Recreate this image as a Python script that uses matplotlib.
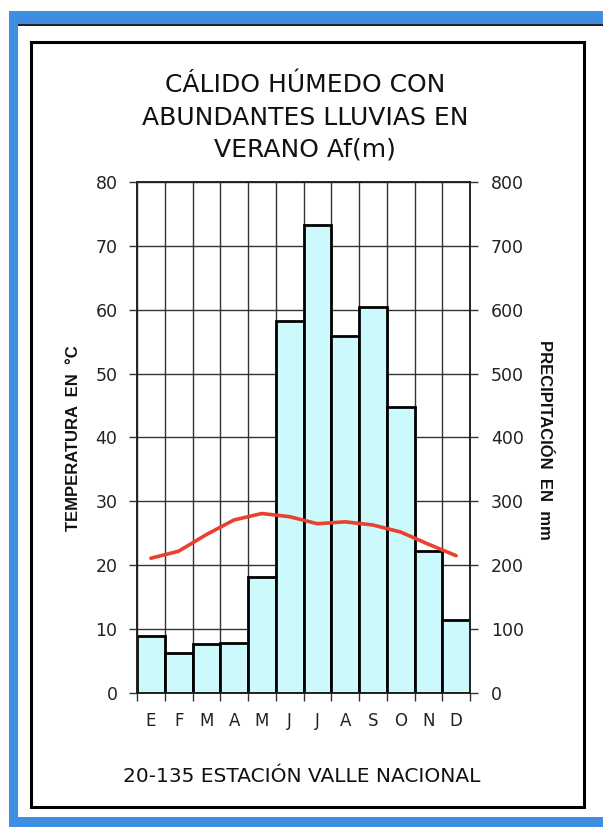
"""
Climograma: cálido húmedo con abundantes lluvias en verano, Valle Nacional
"""

import numpy as np
import matplotlib
matplotlib.use("Agg")
import matplotlib.pyplot as plt
from matplotlib.patches import Rectangle

# Datos
meses = ["E", "F", "M", "A", "M", "J", "J", "A", "S", "O", "N", "D"]
precipitacion = [89, 63, 76, 78, 182, 582, 733, 559, 605, 448, 223, 114]  # mm
temperatura = [21.1, 22.2, 24.8, 27.1, 28.1, 27.6, 26.5, 26.8, 26.3, 25.2, 23.3, 21.5]  # °C
ticks_temp = list(range(0, 81, 10))
ticks_prec = list(range(0, 801, 100))

W, H = 603, 827
fig = plt.figure(figsize=(W / 100, H / 100), dpi=100)
fig.patch.set_facecolor("white")


def fx(px):
    return px / W


def fy(py):
    return 1 - py / H


# Marco azul (ventana) y marco negro
azul = "#3d8ee0"
fig.patches.append(Rectangle((fx(9), fy(25)), fx(603 - 9), 14 / H, transform=fig.transFigure,
                             facecolor=azul, edgecolor="none", zorder=0))
fig.patches.append(Rectangle((fx(9), fy(827)), fx(9), 802 / H, transform=fig.transFigure,
                             facecolor=azul, edgecolor="none", zorder=0))
fig.patches.append(Rectangle((fx(9), fy(827)), fx(603 - 9), 10 / H, transform=fig.transFigure,
                             facecolor=azul, edgecolor="none", zorder=0))
fig.patches.append(Rectangle((fx(18), fy(26)), fx(603 - 18), 1.5 / H, transform=fig.transFigure,
                             facecolor="#222222", edgecolor="none", zorder=0))
fig.patches.append(Rectangle((fx(31), fy(807)), fx(584 - 31), (807 - 42) / H,
                             transform=fig.transFigure, facecolor="none",
                             edgecolor="black", lw=2.2, zorder=1))

# Ejes
ax2 = fig.add_axes([fx(137), fy(693), fx(470 - 137), (693 - 182) / H])
ax = ax2.twinx()
ax.yaxis.tick_left()
ax2.yaxis.tick_right()

x = np.arange(len(meses))
ax2.bar(x, precipitacion, width=1.0, color="#ccfafc", edgecolor="black", lw=2.0, zorder=3)
ax2.set_ylim(0, 800)
ax2.set_xlim(-0.5, 11.5)
ax2.set_yticks(ticks_prec)
ax2.grid(True, which="major", color="#333333", lw=1.0, zorder=0)
ax2.set_axisbelow(True)

ax.plot(x, temperatura, color="#e8412e", lw=2.6, solid_capstyle="round", zorder=5)
ax.set_ylim(0, 80)
ax.set_yticks(ticks_temp)
ax.set_zorder(ax2.get_zorder() + 1)
ax.patch.set_visible(False)

# Eje x: marcas en los límites, etiquetas al centro
ax2.set_xticks(np.arange(-0.5, 12, 1.0))
ax2.set_xticklabels([])
ax2.set_xticks(x, minor=True)
ax2.set_xticklabels(meses, minor=True, fontsize=12, color="#222222")
ax2.tick_params(axis="x", which="major", length=6, width=1, direction="out", color="#333333")
ax2.tick_params(axis="x", which="minor", length=0, pad=14)

for a in (ax, ax2):
    for s in a.spines.values():
        s.set_color("#222222")
        s.set_linewidth(1.2)

ax.tick_params(axis="y", length=6, width=1, pad=8, labelsize=12.5, labelcolor="#222222", color="#333333")
ax2.tick_params(axis="y", length=6, width=1, pad=9, labelsize=12.5, labelcolor="#222222", color="#333333")

# Textos
fig.text(fx(305), fy(85), "CÁLIDO HÚMEDO CON", ha="center", va="center", fontsize=18, color="#111111")
fig.text(fx(305), fy(118), "ABUNDANTES LLUVIAS EN", ha="center", va="center", fontsize=18, color="#111111")
fig.text(fx(305), fy(150), "VERANO Af(m)", ha="center", va="center", fontsize=18, color="#111111")

fig.text(fx(73), fy(438), "TEMPERATURA  EN  °C", rotation=90, ha="center", va="center",
         fontsize=12, fontweight="bold", family="Liberation Sans", color="#111111")
fig.text(fx(544), fy(440), "PRECIPITACIÓN  EN  mm", rotation=-90, ha="center", va="center",
         fontsize=12, fontweight="bold", family="Liberation Sans", color="#111111")

fig.text(fx(302), fy(776), "20-135 ESTACIÓN VALLE NACIONAL", ha="center", va="center",
         fontsize=14.5, color="#111111")

fig.savefig("out.png", dpi=100)
